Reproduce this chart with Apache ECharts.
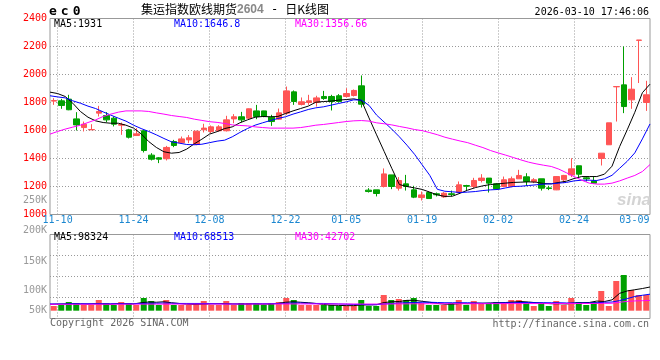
<!DOCTYPE html>
<html><head><meta charset="utf-8">
<script src="https://cdn.jsdelivr.net/npm/echarts@6/dist/echarts.min.js"></script>
<style>html,body{margin:0;padding:0;background:#fff}#c{width:660px;height:360px}</style>
</head><body><div id="c"></div>
<script>
const dates = ['11-07','11-10','11-11','11-12','11-13','11-14','11-17','11-18','11-19','11-20','11-21','11-24','11-25','11-26','11-27','11-28',
'12-01','12-02','12-03','12-04','12-05','12-08','12-09','12-10','12-11','12-12','12-15','12-16','12-17','12-18','12-19','12-22','12-23','12-24','12-25','12-26','12-29','12-30','12-31',
'01-05','01-06','01-07','01-08','01-09','01-12','01-13','01-14','01-15','01-16','01-19','01-20','01-21','01-22','01-23','01-26','01-27','01-28','01-29','01-30',
'02-02','02-03','02-04','02-05','02-06','02-09','02-10','02-11','02-12','02-13','02-24','02-25','02-26','02-27',
'03-02','03-03','03-04','03-05','03-06','03-09','03-10'];

const openP  = [1810,1812,1824,1683,1621,1605,1724,1707,1688,1638,1605,1564,1598,1424,1405,1398,1521,1512,1533,1500,
1605,1593,1598,1598,1683,1698,1688,1740,1740,1695,1681,1724,1876,1786,1800,1800,1843,1843,1848,1843,
1850,1919,1174,1176,1200,1283,1188,1219,1176,1121,1157,1148,1126,1148,1157,1207,1200,1243,1260,1219,
1200,1200,1255,1269,1236,1255,1190,1176,1248,1283,1348,1262,1240,1400,1498,1912,1926,1819,2244,1800];
const closeP = [1814,1779,1748,1640,1645,1607,1736,1676,1645,1643,1552,1576,1457,1395,1395,1479,1493,1540,1548,1595,
1617,1626,1626,1676,1698,1676,1755,1700,1700,1664,1726,1883,1807,1805,1812,1833,1829,1807,1807,1864,
1886,1788,1164,1150,1290,1200,1243,1200,1124,1140,1114,1141,1152,1143,1212,1202,1243,1260,1224,1183,
1248,1255,1279,1236,1248,1188,1186,1271,1279,1326,1288,1255,1224,1438,1655,1914,1771,1895,2246,1855];
const lowP   = [1783,1755,1745,1600,1593,1605,1700,1660,1629,1569,1543,1564,1443,1386,1367,1386,1481,1505,1510,1495,
1586,1581,1593,1593,1652,1660,1681,1681,1695,1633,1676,1712,1783,1779,1783,1771,1819,1743,1800,1836,
1843,1764,1157,1129,1193,1181,1171,1171,1117,1100,1114,1129,1119,1129,1152,1169,1188,1229,1157,1178,
1195,1195,1255,1205,1224,1171,1174,1174,1224,1267,1264,1236,1219,1350,1498,1664,1724,1755,1939,1740];
const highP  = [1831,1826,1855,1731,1664,1645,1776,1731,1700,1657,1612,1617,1600,1438,1410,1490,1533,1557,1567,1598,
1648,1636,1638,1705,1717,1733,1757,1783,1741,1712,1757,1914,1886,1836,1855,1848,1883,1855,1860,1902,
1893,1993,1188,1176,1329,1283,1267,1283,1205,1164,1164,1157,1160,1171,1236,1212,1262,1288,1260,1224,
1271,1271,1319,1295,1260,1255,1205,1274,1283,1402,1348,1267,1271,1438,1655,1914,2200,1981,2246,1955];

const ma5  = [1874,1864,1843,1795,1736,1695,1669,1657,1652,1652,1638,1617,1576,1521,1479,1448,1438,1443,1467,1505,
1538,1574,1592,1614,1626,1655,1676,1695,1700,1698,1700,1721,1740,1757,1774,1802,1807,1810,1817,1821,
1826,1815,1690,1569,1450,1330,1214,1200,1190,1179,1160,1140,1129,1131,1152,1174,1192,1205,1214,1219,
1224,1229,1231,1233,1231,1221,1219,1229,1238,1257,1271,1271,1271,1288,1345,1485,1605,1730,1870,1931];
const ma10 = [1848,1840,1833,1812,1795,1774,1757,1733,1710,1688,1667,1638,1614,1593,1569,1543,1519,1510,1500,1498,
1502,1513,1524,1531,1555,1586,1614,1638,1655,1671,1686,1698,1717,1733,1750,1762,1769,1781,1793,1805,
1819,1817,1780,1710,1660,1610,1555,1495,1430,1355,1280,1180,1166,1162,1157,1160,1164,1171,1176,1179,
1190,1200,1202,1207,1212,1217,1219,1224,1229,1240,1245,1245,1243,1255,1280,1330,1380,1440,1540,1646.8];
const ma30 = [1574,1593,1610,1624,1638,1657,1676,1700,1717,1731,1740,1740,1740,1736,1726,1717,1707,1700,1693,1681,
1672,1663,1658,1650,1640,1636,1633,1626,1621,1617,1617,1617,1617,1621,1629,1638,1643,1650,1657,1664,
1669,1671,1667,1655,1648,1640,1629,1619,1607,1599,1585,1570,1552,1538,1525,1513,1495,1478,1457,1440,
1424,1407,1390,1374,1362,1352,1343,1324,1298,1271,1245,1224,1217,1217,1224,1240,1260,1279,1307,1356.66];

const volume = [19500,23700,36100,32000,23700,23700,44400,32000,23700,36100,32000,23700,52700,40300,23700,44400,23700,23700,23700,32000,
40300,23700,23700,40300,23700,32000,32000,32000,23700,32000,36100,52700,44400,23700,23700,23700,23700,23700,19500,19500,
19500,44400,19500,19500,65200,44400,48600,44400,52700,32000,23700,23700,23700,32000,44400,23700,40300,32000,32000,36100,
32000,44400,44400,32000,19500,32000,19500,40300,23700,52700,36100,23700,36100,81800,19500,123300,148200,85900,65200,65200];
const volMa5 = [26000,27000,28000,29000,28000,27000,29000,28000,27000,30000,29000,28000,33000,36000,35000,37000,33000,30000,27000,26000,
27000,28000,29000,30000,28000,28000,28000,29000,27000,28000,30000,35000,37000,35000,33000,30000,26000,23000,22000,21000,
21000,24000,24000,25000,34000,37000,38000,43000,43000,39000,35000,30000,27000,27000,30000,29000,31000,31000,32000,33000,
34000,36000,38000,36000,33000,31000,29000,29000,28000,32000,33000,34000,40000,38000,45000,72000,82000,87000,92000,98324];
const volMa10 = [28000,28000,28000,29000,29000,29000,29000,29000,29000,29000,29000,29000,30000,31000,31000,32000,31000,30000,30000,30000,
30000,30000,29000,28000,28000,28000,28000,29000,29000,29000,30000,31000,32000,32000,31000,30000,30000,29000,28000,27000,
26000,26000,25000,25000,28000,30000,32000,33000,34000,35000,35000,34000,33000,33000,33000,33000,32000,31000,31000,32000,
33000,33000,34000,34000,33000,33000,33000,33000,32000,32000,32000,32000,33000,35000,36000,42000,50000,59000,64000,68513];
const volMa30 = [26500,26500,26500,26600,26600,26700,26700,26800,26800,26900,27000,27000,27100,27200,27200,27300,27300,27400,27400,27400,
27500,27500,27500,27600,27600,27600,27700,27700,27700,27800,27800,27900,28000,28000,28000,28000,27900,27900,27800,27800,
27700,27700,27600,27600,27800,28000,28200,28400,28600,28800,28900,29000,29000,29000,29100,29100,29100,29200,29200,29300,
29300,29400,29400,29500,29500,29500,29500,29600,29600,29700,29800,29800,30000,30500,31000,35000,38500,40500,41500,42702];

const xTickLabels = ['11-10','11-24','12-08','12-22','01-05','01-19','02-02','02-24','03-09'];
const xGridDates  = ['11-10','11-24','12-08','12-22','01-05','01-19','02-02','02-24'];
const volTickLabels = {4:'200K', 3:'150K', 2:'100K', 1:'50K'};
const priceMaText = ['MA5:1931','MA10:1646.8','MA30:1356.66'];
const volMaText = ['MA5:98324','MA10:68513','MA30:42702'];

const MONO = '"DejaVu Sans Mono","Liberation Mono",monospace';
const UP = '#ff5555', DOWN = '#00a000', BLUE_LABEL = '#1b87d0', GRIDC = '#999';
const dotted = {color: GRIDC, type: [1, 2], width: 1};

function txt(text, pos, color, extra) {
  return Object.assign({text: text, padding: 0, textStyle: Object.assign({fontFamily: MONO, fontSize: 10, fontWeight: 'normal', color: color, lineHeight: 12}, extra || {})}, pos);
}

const chart = echarts.init(document.getElementById('c'), null, {renderer: 'canvas'});
chart.setOption({
  animation: false,
  backgroundColor: '#fff',
  title: [
    {text: '{a|e}{a|c}{a|0}', left: 49, top: 4, padding: 0,
      textStyle: {rich: {a: {fontFamily: MONO, fontSize: 13, fontWeight: 'bold', color: '#000', padding: [0, 4, 0, 0], lineHeight: 15}}}},
    {text: '集运指数欧线期货{g|2604}{m| - }日K线图', left: 141, top: 2.5, padding: 0,
      textStyle: {fontFamily: '"Noto Sans CJK SC"', fontSize: 12, fontWeight: 'normal', color: '#000', lineHeight: 14,
        rich: {g: {fontFamily: '"Liberation Sans"', fontWeight: 'bold', fontSize: 12, color: '#888', lineHeight: 14},
               m: {fontFamily: MONO, fontSize: 12, color: '#000', lineHeight: 14}}}},
    txt('2026-03-10 17:46:06', {right: 11, top: 6}, '#000'),
    txt(priceMaText[0], {left: 54, top: 18.5}, '#000'),
    txt(priceMaText[1], {left: 174, top: 18.5}, '#0000ff'),
    txt(priceMaText[2], {left: 295, top: 18.5}, '#ff00ff'),
    txt(volMaText[0], {left: 54, top: 231.5}, '#000'),
    txt(volMaText[1], {left: 174, top: 231.5}, '#0000ff'),
    txt(volMaText[2], {left: 295, top: 231.5}, '#ff00ff'),
    txt('Copyright 2026 SINA.COM', {left: 50, top: 317.5}, '#666'),
    txt('http://finance.sina.com.cn', {right: 11, top: 318}, '#666'),
    {text: 'sina', left: 617, top: 191, padding: 0,
      textStyle: {fontFamily: '"Liberation Sans"', fontSize: 17, fontStyle: 'italic', fontWeight: 'bold', color: '#d4d4d4', lineHeight: 18}}
  ],
  grid: [
    {left: 50, right: 10, top: 18.5, height: 196, show: true, borderColor: GRIDC, borderWidth: 1, outerBoundsMode: 'none'},
    {left: 50, right: 10, top: 234.5, height: 84, show: true, borderColor: GRIDC, borderWidth: 1, outerBoundsMode: 'none'}
  ],
  xAxis: [
    {type: 'category', gridIndex: 0, data: dates, boundaryGap: true, show: false, position: 'top'},
    {type: 'category', gridIndex: 0, data: dates, boundaryGap: false, position: 'bottom',
      axisLine: {show: false}, axisTick: {show: false},
      axisLabel: {interval: (i, v) => xTickLabels.indexOf(v) >= 0, color: BLUE_LABEL, fontFamily: MONO, fontSize: 10, margin: 1,
        formatter: v => v === '03-09' ? '{e|' + v + '}' : v,
        rich: {e: {padding: [0, 16, 0, 0], fontFamily: MONO, fontSize: 10, color: BLUE_LABEL}}},
      splitLine: {show: true, interval: (i, v) => xGridDates.indexOf(v) >= 0, lineStyle: dotted}},
    {type: 'category', gridIndex: 1, data: dates, boundaryGap: true, show: false, position: 'top'},
    {type: 'category', gridIndex: 1, data: dates, boundaryGap: false, position: 'bottom',
      axisLine: {show: false}, axisTick: {show: false}, axisLabel: {show: false},
      splitLine: {show: true, interval: (i, v) => xGridDates.indexOf(v) >= 0, lineStyle: dotted}}
  ],
  yAxis: [
    {type: 'value', gridIndex: 0, min: 1000, max: 2400, interval: 200, position: 'left',
      axisLine: {show: false}, axisTick: {show: false},
      axisLabel: {color: '#ff0000', fontFamily: MONO, fontSize: 10, margin: 3, padding: [0, 0, 5, 0], formatter: v => String(v)},
      splitLine: {show: true, lineStyle: dotted}},
    {type: 'value', gridIndex: 0, min: 1000, max: 2400, interval: 100, position: 'left', offset: 0,
      axisLine: {show: false}, axisTick: {show: false}, splitLine: {show: false},
      axisLabel: {color: '#999', fontFamily: MONO, fontSize: 10, margin: 3, formatter: v => v === 1100 ? '250K' : ''}},
    {type: 'value', gridIndex: 1, min: -32400, max: 316200, show: false, splitLine: {show: false}},
    {type: 'value', gridIndex: 1, min: 0, max: 4, interval: 1, position: 'left',
      axisLine: {show: false}, axisTick: {show: false},
      splitLine: {show: true, lineStyle: dotted},
      axisLabel: {color: '#999', fontFamily: MONO, fontSize: 10, margin: 3,
        formatter: v => {
          const t = volTickLabels[v];
          if (!t) return '';
          const style = {4: 'u', 3: 'd1', 2: 'd2', 1: 'd3'}[v];
          return '{' + style + '|' + t + '}';
        },
        rich: {
          u:  {padding: [0, 0, 8, 0], color: '#999', fontFamily: MONO, fontSize: 10},
          d1: {padding: [11, 0, 0, 0], color: '#999', fontFamily: MONO, fontSize: 10},
          d2: {padding: [28, 0, 0, 0], color: '#999', fontFamily: MONO, fontSize: 10},
          d3: {padding: [25, 0, 0, 0], color: '#999', fontFamily: MONO, fontSize: 10}
        }}}
  ],
  series: [
    {type: 'candlestick', xAxisIndex: 0, yAxisIndex: 0, barWidth: 6,
      data: dates.map((d, i) => [openP[i], closeP[i], lowP[i], highP[i]]),
      itemStyle: {color: UP, color0: DOWN, borderColor: UP, borderColor0: DOWN, borderWidth: 1}},
    {type: 'line', xAxisIndex: 1, yAxisIndex: 0, data: ma5, showSymbol: false, silent: true, lineStyle: {color: '#000', width: 1}},
    {type: 'line', xAxisIndex: 1, yAxisIndex: 0, data: ma10, showSymbol: false, silent: true, lineStyle: {color: '#0000ff', width: 1}},
    {type: 'line', xAxisIndex: 1, yAxisIndex: 0, data: ma30, showSymbol: false, silent: true, lineStyle: {color: '#ff00ff', width: 1}},
    {type: 'bar', xAxisIndex: 2, yAxisIndex: 2, barWidth: 6,
      data: volume.map((v, i) => ({value: v, itemStyle: {color: closeP[i] >= openP[i] ? UP : DOWN}}))},
    {type: 'line', xAxisIndex: 3, yAxisIndex: 2, data: volMa5, showSymbol: false, silent: true, lineStyle: {color: '#000', width: 1}},
    {type: 'line', xAxisIndex: 3, yAxisIndex: 2, data: volMa10, showSymbol: false, silent: true, lineStyle: {color: '#0000ff', width: 1}},
    {type: 'line', xAxisIndex: 3, yAxisIndex: 2, data: volMa30, showSymbol: false, silent: true, lineStyle: {color: '#ff00ff', width: 1}}
  ]
});
</script>
</body></html>
